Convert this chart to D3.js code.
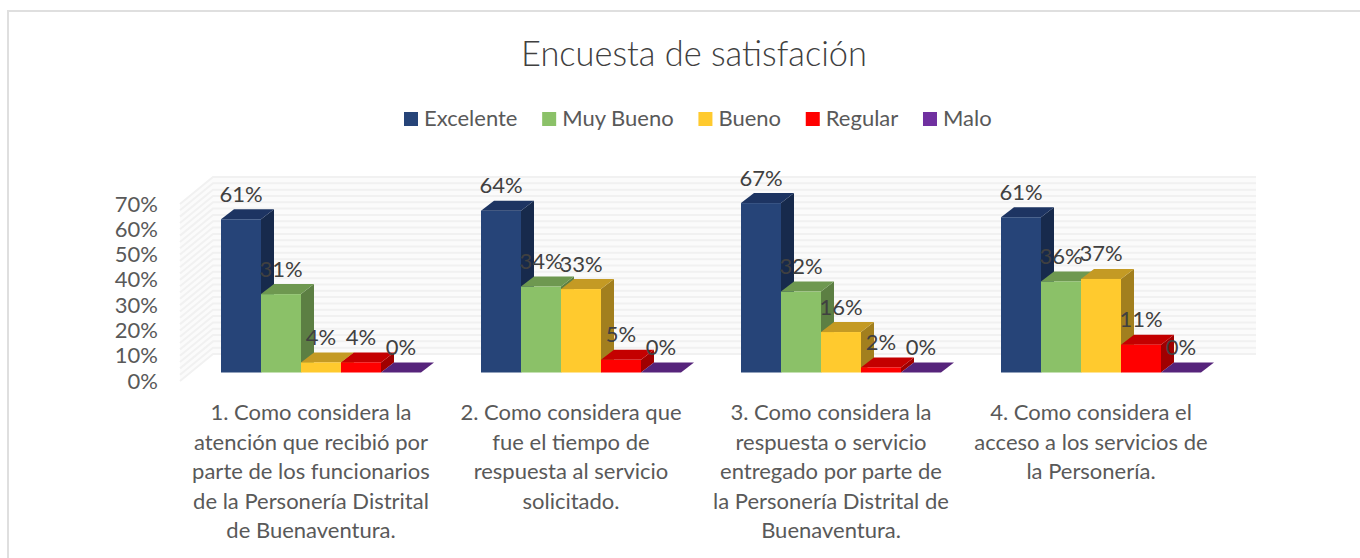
<!DOCTYPE html>
<html>
<head>
<meta charset="utf-8">
<script src="https://cdnjs.cloudflare.com/ajax/libs/d3/7.8.5/d3.min.js"></script>
<style>
html, body { margin: 0; padding: 0; background: #fff; }
text { font-family: Lato, "Open Sans", sans-serif; }
</style>
</head>
<body>
<div id="chart"></div>
<script>
var width = 1360;
var height = 558;

var title = "Encuesta de satisfación";
var series = ["Excelente", "Muy Bueno", "Bueno", "Regular", "Malo"];
var categories = ["q1", "q2", "q3", "q4"];
var categoryLines = [
    ["1. Como considera la", "atención que recibió por", "parte de los funcionarios", "de la Personería Distrital", "de Buenaventura."],
    ["2. Como considera que", "fue el tiempo de", "respuesta al servicio", "solicitado."],
    ["3. Como considera la", "respuesta o servicio", "entregado por parte de", "la Personería Distrital de", "Buenaventura."],
    ["4. Como considera el", "acceso a los servicios de", "la Personería."]
];
// the two 61% bars are not the same height in the picture, so they keep a decimal
var excelente = [60.6, 64, 67, 61.4];
var muyBueno = [31, 34, 32, 36];
var bueno = [4, 33, 16, 37];
var regular = [4, 5, 2, 11];
var malo = [0, 0, 0, 0];
var seriesValues = [excelente, muyBueno, bueno, regular, malo];

var frontColors = ["#264478", "#8BC168", "#FFCA2E", "#FF0000", "#7030A0"];
var topColors = ["#1D3462", "#6E9850", "#C49A24", "#C40000", "#56247B"];
var sideColors = ["#172A4C", "#5C7F43", "#A27F1E", "#A00000", "#461D66"];
var textColor = "#595959";

var svg = d3.select("#chart")
    .append("svg")
    .attr("width", width)
    .attr("height", height)
    .style("display", "block");

// outer chart frame, only top and left are inside the crop
svg.append("path")
    .attr("d", "M8,558V11H1360")
    .attr("fill", "none")
    .attr("stroke", "#dfdfdf")
    .attr("stroke-width", 2);

svg.append("text")
    .attr("x", 694)
    .attr("y", 66)
    .attr("text-anchor", "middle")
    .attr("font-size", 34.4)
    .attr("font-weight", 300)
    .attr("fill", "#404040")
    .text(title);

// legend, laid out from the measured text widths
var legendItems = svg.append("g").selectAll("g")
    .data(series)
    .enter()
    .append("g");
legendItems.append("rect")
    .attr("y", 112)
    .attr("width", 14)
    .attr("height", 14)
    .attr("fill", (d, i) => frontColors[i]);
legendItems.append("text")
    .attr("x", 20)
    .attr("y", 126)
    .attr("font-size", 22)
    .attr("fill", textColor)
    .text(d => d);
var legendX = 404;
legendItems.each(function () {
    d3.select(this).attr("transform", `translate(${legendX},0)`);
    legendX += 20 + d3.select(this).select("text").node().getComputedTextLength() + 24.7;
});

var y = d3.scaleLinear().domain([0, 70]).range([381, 204]);
var x0 = d3.scaleBand().domain(categories).range([180, 1220]);
var x1 = d3.scaleBand().domain(series).range([41, 241]);

// depth of the walls and of the bars
var wallDx = 33, wallDy = -27;
var barDx = 13, barDy = -10;
var barBase = 8.5; // the bars stand a bit behind the front edge of the floor

var wallLeft = x0.range()[0];
var wallRight = x0.range()[1];

var stripes = d3.range(0, 70.1, 2.5);
var walls = svg.append("g");
walls.append("rect")
    .attr("x", wallLeft + wallDx)
    .attr("y", y(70) + wallDy)
    .attr("width", wallRight - wallLeft + 3)
    .attr("height", y(0) - y(70))
    .attr("fill", "#fbfbfb");
walls.append("path")
    .attr("d", d3.line()([
        [wallLeft, y(0)], [wallLeft + wallDx, y(0) + wallDy],
        [wallLeft + wallDx, y(70) + wallDy], [wallLeft, y(70)]
    ]) + "Z")
    .attr("fill", "#fbfbfb");
walls.selectAll(".stripe")
    .data(stripes)
    .enter()
    .append("path")
    .attr("class", "stripe")
    .attr("d", d => d3.line()([
        [wallLeft, y(d)], [wallLeft + wallDx, y(d) + wallDy], [wallRight + wallDx + 3, y(d) + wallDy]
    ]))
    .attr("fill", "none")
    .attr("stroke", "#f1f1f1")
    .attr("stroke-width", 2);

// value axis
var yAxis = d3.axisLeft(y)
    .tickValues(d3.range(0, 71, 10))
    .tickFormat(d => d + "%")
    .tickSize(0)
    .tickPadding(0);
var axisG = svg.append("g")
    .attr("transform", "translate(158,0)")
    .call(yAxis);
axisG.select(".domain").remove();
axisG.selectAll("text")
    .attr("font-size", 22)
    .attr("fill", textColor)
    .style("font-family", "Lato, 'Open Sans', sans-serif");

// bars, drawn left to right so each front covers the previous side
var bars = [];
categories.forEach(function (c, ci) {
    series.forEach(function (s, si) {
        bars.push({ cat: c, ser: s, si: si, value: seriesValues[si][ci] });
    });
});

function barLeft(d) { return x0(d.cat) + x1(d.ser); }
function barTop(d) { return y(d.value) - barBase; }
function barBottom() { return y(0) - barBase; }

var bar = svg.append("g").selectAll("g")
    .data(bars)
    .enter()
    .append("g");

bar.append("path")
    .attr("d", function (d) {
        var r = barLeft(d) + x1.bandwidth();
        return d3.line()([
            [r, barTop(d)], [r + barDx, barTop(d) + barDy],
            [r + barDx, barBottom() + barDy], [r, barBottom()]
        ]) + "Z";
    })
    .attr("fill", d => sideColors[d.si]);

bar.append("path")
    .attr("d", function (d) {
        var l = barLeft(d), r = l + x1.bandwidth();
        return d3.line()([
            [l, barTop(d)], [l + barDx, barTop(d) + barDy],
            [r + barDx, barTop(d) + barDy], [r, barTop(d)]
        ]) + "Z";
    })
    .attr("fill", d => topColors[d.si]);

bar.append("rect")
    .attr("x", barLeft)
    .attr("y", barTop)
    .attr("width", x1.bandwidth())
    .attr("height", d => barBottom() - barTop(d))
    .attr("fill", d => frontColors[d.si]);

// labels go on top of every bar
svg.append("g").selectAll("text")
    .data(bars)
    .enter()
    .append("text")
    .attr("x", d => barLeft(d) + x1.bandwidth() / 2)
    .attr("y", d => barTop(d) - 17.5)
    .attr("text-anchor", "middle")
    .attr("font-size", 22)
    .attr("fill", "#404040")
    .text(d => d3.format(".0f")(d.value) + "%");

// category labels
var catLabels = svg.append("g").selectAll("text")
    .data(categories)
    .enter()
    .append("text")
    .attr("text-anchor", "middle")
    .attr("font-size", 22)
    .attr("fill", textColor);
catLabels.selectAll("tspan")
    .data((d, i) => categoryLines[i].map(t => ({ t: t, cat: d })))
    .enter()
    .append("tspan")
    .attr("x", d => x0(d.cat) + x0.bandwidth() / 2 + 1)
    .attr("y", (d, i) => 420 + i * 29.5)
    .text(d => d.t);
</script>
</body>
</html>
